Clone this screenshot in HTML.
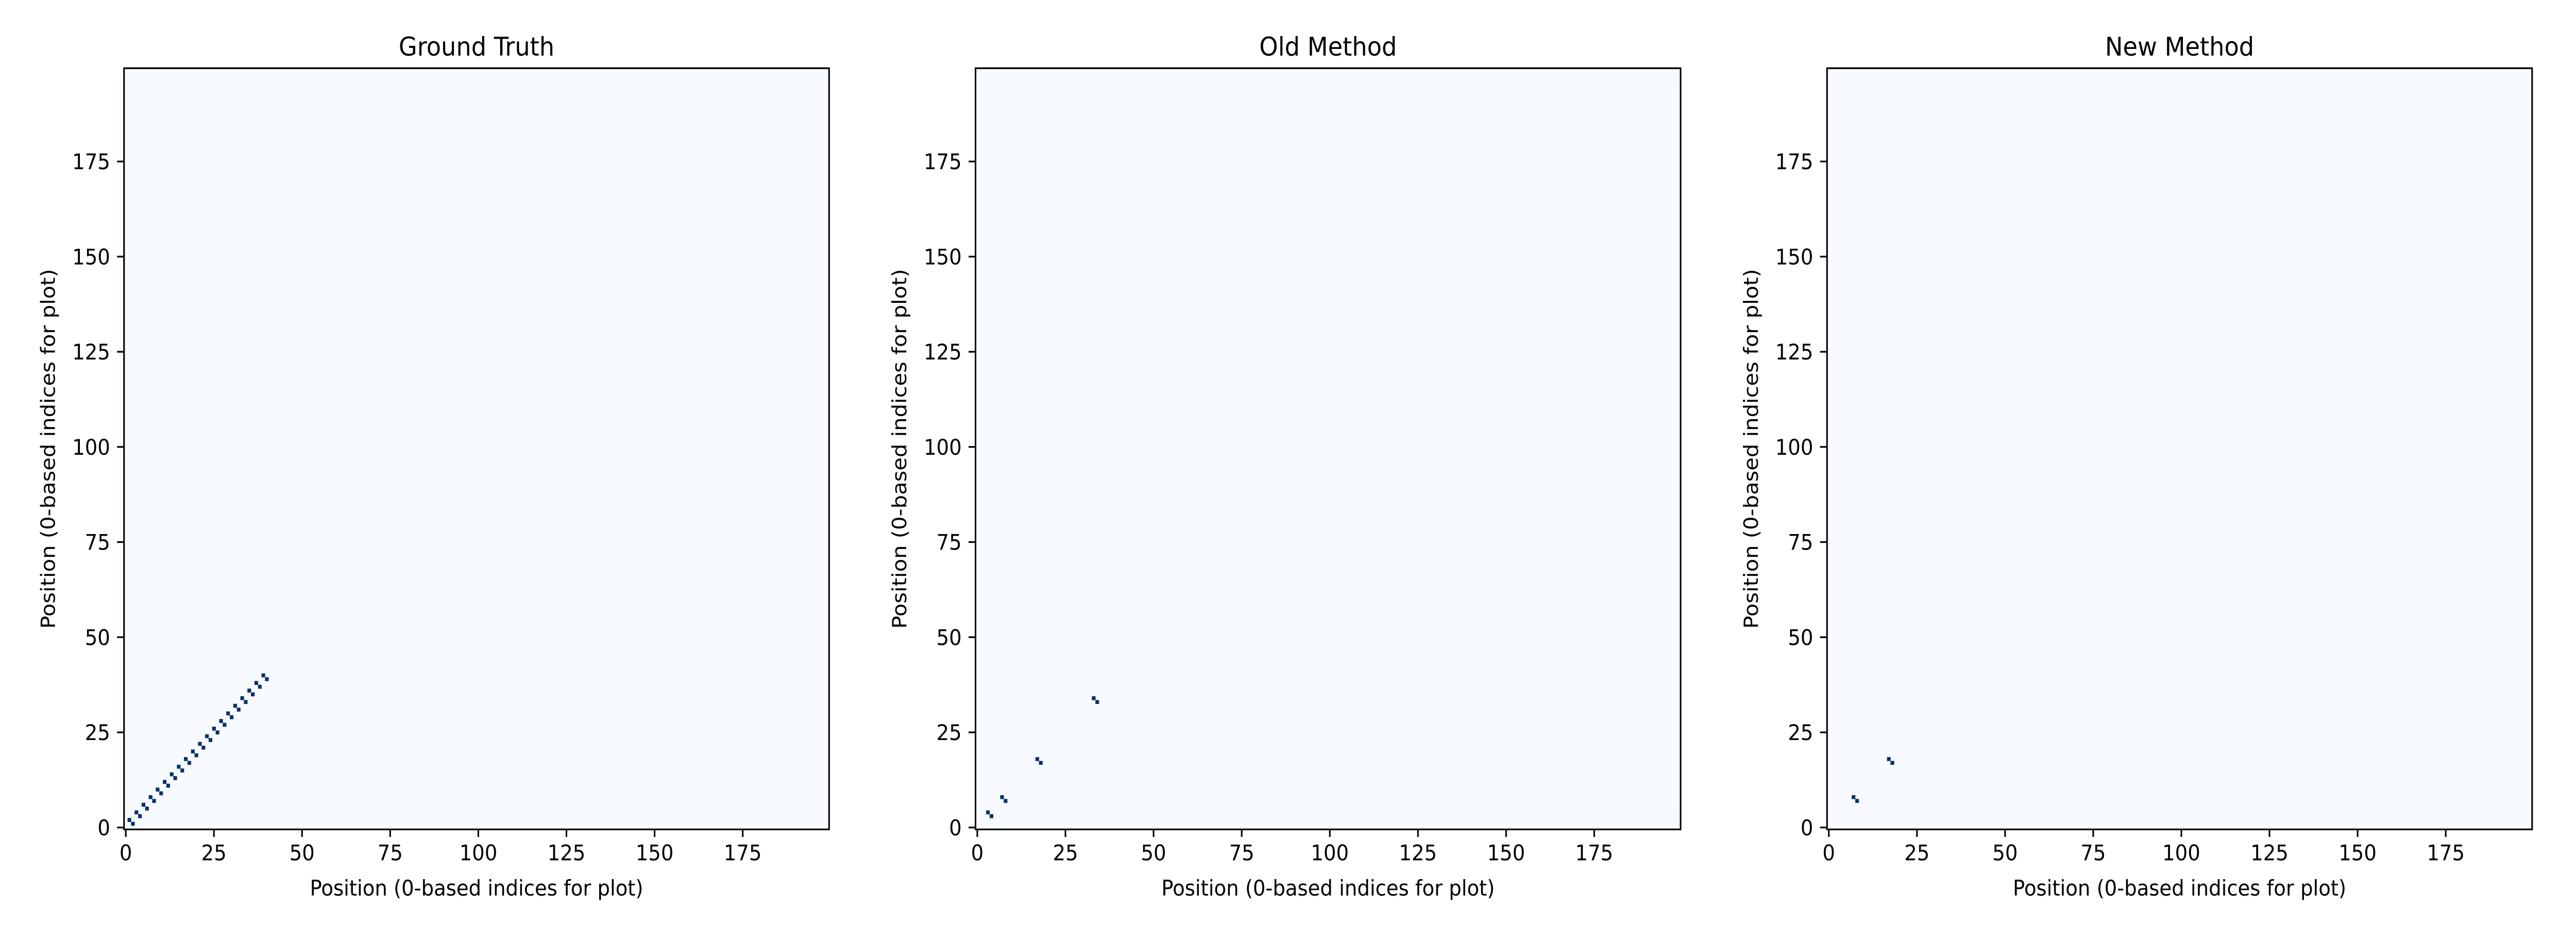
<!DOCTYPE html>
<html><head><meta charset="utf-8"><style>
html,body{margin:0;padding:0;background:#fff;width:100%;height:100%;overflow:hidden;}
svg{display:block;width:100vw;height:100vh;font-family:"DejaVu Sans","Liberation Sans",sans-serif;}
</style></head><body>
<svg id="fig" viewBox="0 0 5400 1800" preserveAspectRatio="none" xmlns="http://www.w3.org/2000/svg"></svg>
<script>
const panelTitles = ["Ground Truth", "Old Method", "New Method"];
const gridSize = 200;
const tickValues = [0, 25, 50, 75, 100, 125, 150, 175];
const truthCells = [[1,2],[2,1],[3,4],[4,3],[5,6],[6,5],[7,8],[8,7],[9,10],[10,9],[11,12],[12,11],[13,14],[14,13],[15,16],[16,15],[17,18],[18,17],[19,20],[20,19],[21,22],[22,21],[23,24],[24,23],[25,26],[26,25],[27,28],[28,27],[29,30],[30,29],[31,32],[32,31],[33,34],[34,33],[35,36],[36,35],[37,38],[38,37],[39,40],[40,39]];
const oldCells = [[3,4],[4,3],[7,8],[8,7],[17,18],[18,17],[33,34],[34,33]];
const newCells = [[7,8],[8,7],[17,18],[18,17]];
const panelCells = [truthCells, oldCells, newCells];

const NS = "http://www.w3.org/2000/svg";
const svg = document.getElementById("fig");
const lefts = [260, 2045, 3830];
const top0 = 132.5, size = 1478;
function mk(tag, attrs, parent){const e=document.createElementNS(NS,tag);for(const k in attrs)e.setAttribute(k,attrs[k]);(parent||svg).appendChild(e);return e;}

panelTitles.forEach((title, p) => {
  const L = lefts[p];
  const unit = size / gridSize;
  const xs = v => L + v * unit;
  const ys = v => top0 + size - v * unit;
  const g = mk("g", {});
  
  
  const bg = mk("rect", {x:L, y:top0, width:size, height:size, fill:"#f7fbff"}, g);
  
  
  panelCells[p].forEach(c => {
    const r = mk("rect", {x:xs(c[0]), y:ys(c[1]+1), width:unit+0.3, height:unit+0.3, fill:"#08306b"}, g);
    
    
  });
  const fr = mk("rect", {x:L, y:top0, width:size, height:size, fill:"none", stroke:"#000", "stroke-width":3.3}, g);
  
  
  tickValues.forEach(t => {
    const cx = xs(t + 0.5), cy = ys(t + 0.5);
    mk("line", {x1:cx, y1:top0+size, x2:cx, y2:top0+size+14.6, stroke:"#000", "stroke-width":3.3}, g);
    const xl = mk("text", {x:cx, y:top0+size+60, "font-size":41.7, "text-anchor":"middle", fill:"#000"}, g);
    xl.textContent = t;
    
    
    mk("line", {x1:L, y1:cy, x2:L-14.6, y2:cy, stroke:"#000", "stroke-width":3.3}, g);
    const yl = mk("text", {x:L-29, y:cy+15, "font-size":41.7, "text-anchor":"end", fill:"#000"}, g);
    yl.textContent = t;
    
    
  });
  const tt = mk("text", {x:L+size/2, y:108, "font-size":50, "text-anchor":"middle", fill:"#000"}, g);
  tt.textContent = title;
  
  
  const xt = mk("text", {x:L+size/2, y:1739, "font-size":41.7, "text-anchor":"middle", fill:"#000"}, g);
  xt.textContent = "Position (0-based indices for plot)";
  
  
  const yx = L - 145, yy = top0 + size/2;
  const yt = mk("text", {x:yx, y:yy, "font-size":41.7, "text-anchor":"middle", fill:"#000", transform:"rotate(-90 "+yx+" "+yy+")"}, g);
  yt.textContent = "Position (0-based indices for plot)";
  
  
});
</script>
</body></html>
